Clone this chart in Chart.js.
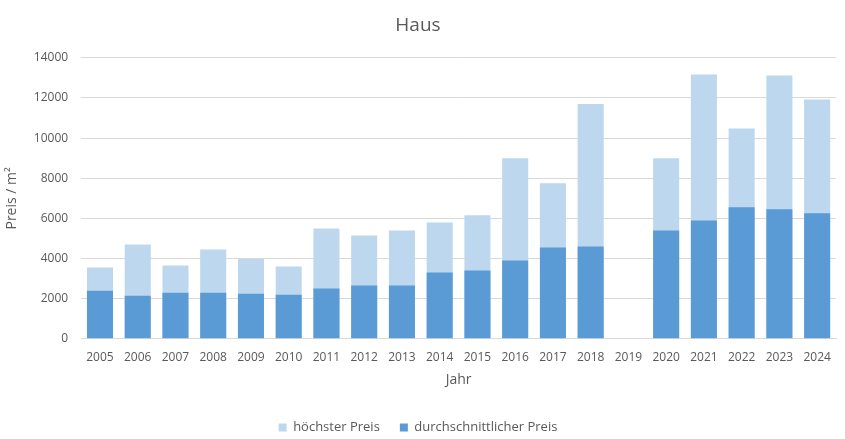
<!DOCTYPE html>
<html>
<head>
<meta charset="utf-8">
<script src="https://cdn.jsdelivr.net/npm/chart.js@4"></script>
<style>
  html, body { margin: 0; padding: 0; background: #fff; }
  #wrap { width: 845px; height: 439px; }
</style>
</head>
<body>
<div id="wrap"><canvas id="hausChart"></canvas></div>
<script>
// Jahre und Preise (Euro pro m2)
const years = ['2005', '2006', '2007', '2008', '2009', '2010', '2011', '2012', '2013', '2014',
	'2015', '2016', '2017', '2018', '2019', '2020', '2021', '2022', '2023', '2024']

const maxPrice = [3550, 4700, 3650, 4450, 3970, 3600, 5500, 5150, 5400, 5800,
	6150, 9000, 7750, 11700, null, 9000, 13170, 10480, 13120, 11920]

const avgPrice = [2400, 2150, 2300, 2300, 2250, 2200, 2500, 2650, 2650, 3300,
	3400, 3900, 4550, 4600, null, 5400, 5900, 6550, 6450, 6250]

const yTicks = [0, 2000, 4000, 6000, 8000, 10000, 12000, 14000]

const grey = '#595959'
const font = 'Open Sans'

const ctx = document.getElementById('hausChart').getContext('2d')
const hausChart = new Chart(ctx, {
	type: 'bar',
	data: {
		labels: years,
		datasets: [
			{
				label: 'höchster Preis',
				data: maxPrice,
				backgroundColor: '#bdd7ee',
				order: 1,
			},
			{
				label: 'durchschnittlicher Preis',
				data: avgPrice,
				backgroundColor: '#5b9bd5',
				order: 0,
			},
		],
	},
	options: {
		responsive: true,
		maintainAspectRatio: false,
		animation: false,
		categoryPercentage: 1,
		barPercentage: 0.69,
		layout: { padding: { left: 0, right: 9, top: 6, bottom: -5 } },
		plugins: {
			legend: {
				position: 'bottom',
				labels: {
					color: grey,
					font: { family: font, size: 13 },
					boxWidth: 8,
					boxHeight: 8,
					padding: 20,
					sort: (a, b) => a.datasetIndex - b.datasetIndex,
				},
			},
			title: {
				display: true,
				text: 'Haus',
				color: grey,
				font: { family: font, size: 19, weight: 'normal' },
				padding: { top: 8, bottom: 21 },
			},
			tooltip: { enabled: false },
		},
		scales: {
			x: {
				stacked: true,
				grid: { display: false },
				border: { color: '#d9d9d9' },
				ticks: { color: grey, font: { family: font, size: 12 }, maxRotation: 0, autoSkip: false, padding: 4 },
				title: {
					display: true,
					text: 'Jahr',
					color: grey,
					font: { family: font, size: 14 },
					padding: { top: 2, bottom: 13 },
				},
			},
			y: {
				stacked: false,
				min: 0,
				max: 14000,
				afterBuildTicks: axis => {
					axis.ticks = yTicks.map(v => ({ value: v }))
				},
				grid: { color: '#d9d9d9', drawTicks: false },
				border: { display: false },
				ticks: {
					color: grey,
					font: { family: font, size: 12 },
					padding: 13,
					callback: v => String(v),
				},
				title: {
					display: true,
					text: 'Preis / m²',
					color: grey,
					font: { family: font, size: 14 },
					padding: { bottom: 0 },
				},
			},
		},
	},
})
</script>
</body>
</html>
